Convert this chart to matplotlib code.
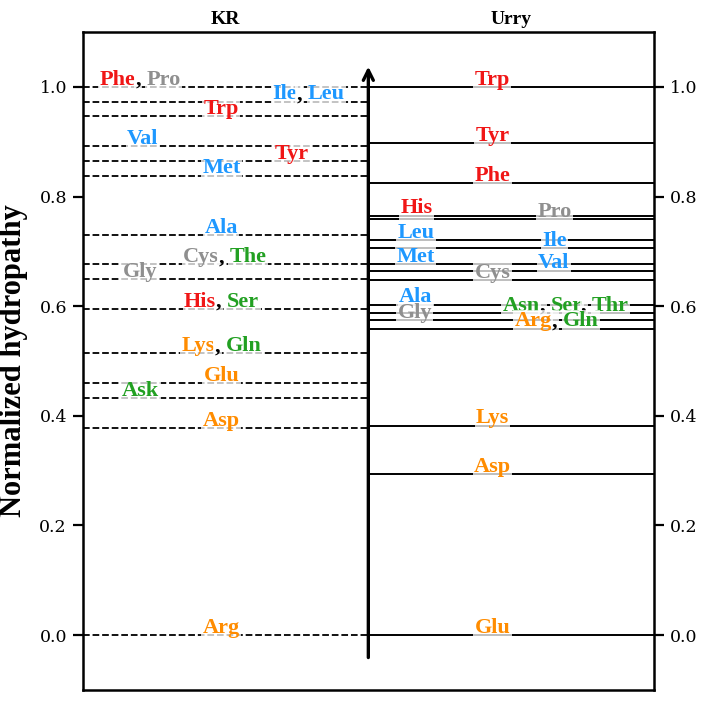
import matplotlib
matplotlib.use("Agg")
import matplotlib.pyplot as plt
from matplotlib.transforms import offset_copy

# normalized hydropathy, Kapcha-Rossky (left) and Urry (right) scales
kr_groups = [["Phe", "Pro"], ["Ile", "Leu"], ["Trp"], ["Val"], ["Tyr"], ["Met"], ["Ala"],
             ["Cys", "The"], ["Gly"], ["His", "Ser"], ["Lys", "Gln"], ["Glu"], ["Ask"], ["Asp"], ["Arg"]]
kr_values = [1.000, 0.973, 0.946, 0.892, 0.865, 0.838, 0.730, 0.676, 0.649, 0.595, 0.514,
             0.459, 0.432, 0.378, 0.000]
urry_groups = [["Trp"], ["Tyr"], ["Phe"], ["His"], ["Pro"], ["Leu"], ["Ile"], ["Met"], ["Val"],
               ["Cys"], ["Ala"], ["Asn", "Ser", "Thr"], ["Gly"], ["Arg", "Gln"], ["Lys"], ["Asp"], ["Glu"]]
urry_values = [1.000, 0.897, 0.824, 0.765, 0.759, 0.721, 0.706, 0.676, 0.665, 0.647, 0.603,
               0.588, 0.574, 0.559, 0.382, 0.294, 0.000]
yticks = [0.0, 0.2, 0.4, 0.6, 0.8, 1.0]

# label placement (x in data units: KR panel 0..1, Urry panel 1..2)
kr_label_x = [0.20, 0.79, 0.485, 0.21, 0.73, 0.487, 0.485, 0.497, 0.20, 0.486, 0.486, 0.485, 0.203, 0.485, 0.485]
urry_label_x = [1.435, 1.435, 1.435, 1.168, 1.652, 1.166, 1.652, 1.166, 1.65, 1.435, 1.166,
                1.692, 1.163, 1.661, 1.435, 1.435, 1.435]

RED, GRAY, BLUE, GREEN, ORANGE = "#f01616", "#8f8f8f", "#1e98ff", "#22a022", "#ff8c00"
color_of = {"Phe": RED, "Trp": RED, "Tyr": RED, "His": RED,
            "Pro": GRAY, "Cys": GRAY, "Gly": GRAY,
            "Ile": BLUE, "Leu": BLUE, "Val": BLUE, "Met": BLUE, "Ala": BLUE,
            "The": GREEN, "Thr": GREEN, "Ser": GREEN, "Gln": GREEN, "Asn": GREEN, "Ask": GREEN,
            "Lys": ORANGE, "Glu": ORANGE, "Asp": ORANGE, "Arg": ORANGE}

LBL = dict(family="Liberation Serif", fontweight="bold", fontsize=16)

fig = plt.figure(figsize=(7.09, 7.04), dpi=100)
ax = fig.add_axes([0.117, 0.02, 0.805, 0.9345])
ax.set_xlim(0, 2)
ax.set_ylim(-0.1, 1.1)
for s in ax.spines.values():
    s.set_linewidth(1.8)

for v in kr_values:
    ax.plot([0, 1], [v, v], color="black", lw=1.3, ls="--", zorder=1)
for v in urry_values:
    ax.plot([1, 2], [v, v], color="black", lw=1.4, zorder=1)

ax.annotate("", xy=(1, 1.042), xytext=(1, -0.046),
            arrowprops=dict(arrowstyle="->", lw=2.4, color="black", mutation_scale=18), zorder=2)

renderer = fig.canvas.get_renderer()
def width(s):
    t = ax.text(0, 0, s, **LBL)
    w = t.get_window_extent(renderer).width
    t.remove()
    return w

def put_label(x, y, names):
    full = ", ".join(names)
    total = width(full)
    segs, i = [], 0
    for k, n in enumerate(names):
        if k:
            segs.append((i, ",", "black")); i += 2
        segs.append((i, n, color_of[n])); i += len(n)
    for start, s, c in segs:
        off = width(full[:start] + s) - width(s) - total / 2
        tr = offset_copy(ax.transData, fig=fig, x=off, y=0, units="dots")
        ax.text(x, y + 0.004, s, color=c, ha="left", va="baseline", transform=tr, zorder=4,
                bbox=dict(boxstyle="square,pad=0.06", fc="white", ec="none", alpha=0.75), **LBL)

for g, v, x in zip(kr_groups, kr_values, kr_label_x):
    put_label(x, v, g)
for g, v, x in zip(urry_groups, urry_values, urry_label_x):
    put_label(x, v, g)

ax.set_xticks([])
ax.set_yticks(yticks)
ax.set_yticklabels([f"{t:.1f}" for t in yticks], family="DejaVu Serif", fontsize=12.5)
ax.tick_params(axis="y", right=True, labelright=True, length=7.5, width=1.6, pad=4, direction="out")
for lab in ax.get_yticklabels(which="both"):
    lab.set_family("DejaVu Serif")
ax.set_ylabel("Normalized hydropathy", family="Liberation Serif", fontweight="bold", fontsize=22)
ax.yaxis.set_label_coords(-0.097, 0.5)

ax.text(0.25, 1.012, "KR", transform=ax.transAxes, ha="center", va="baseline",
        family="Liberation Serif", fontweight="bold", fontsize=14)
ax.text(0.75, 1.012, "Urry", transform=ax.transAxes, ha="center", va="baseline",
        family="Liberation Serif", fontweight="bold", fontsize=14)

fig.savefig("out.png", dpi=100)
